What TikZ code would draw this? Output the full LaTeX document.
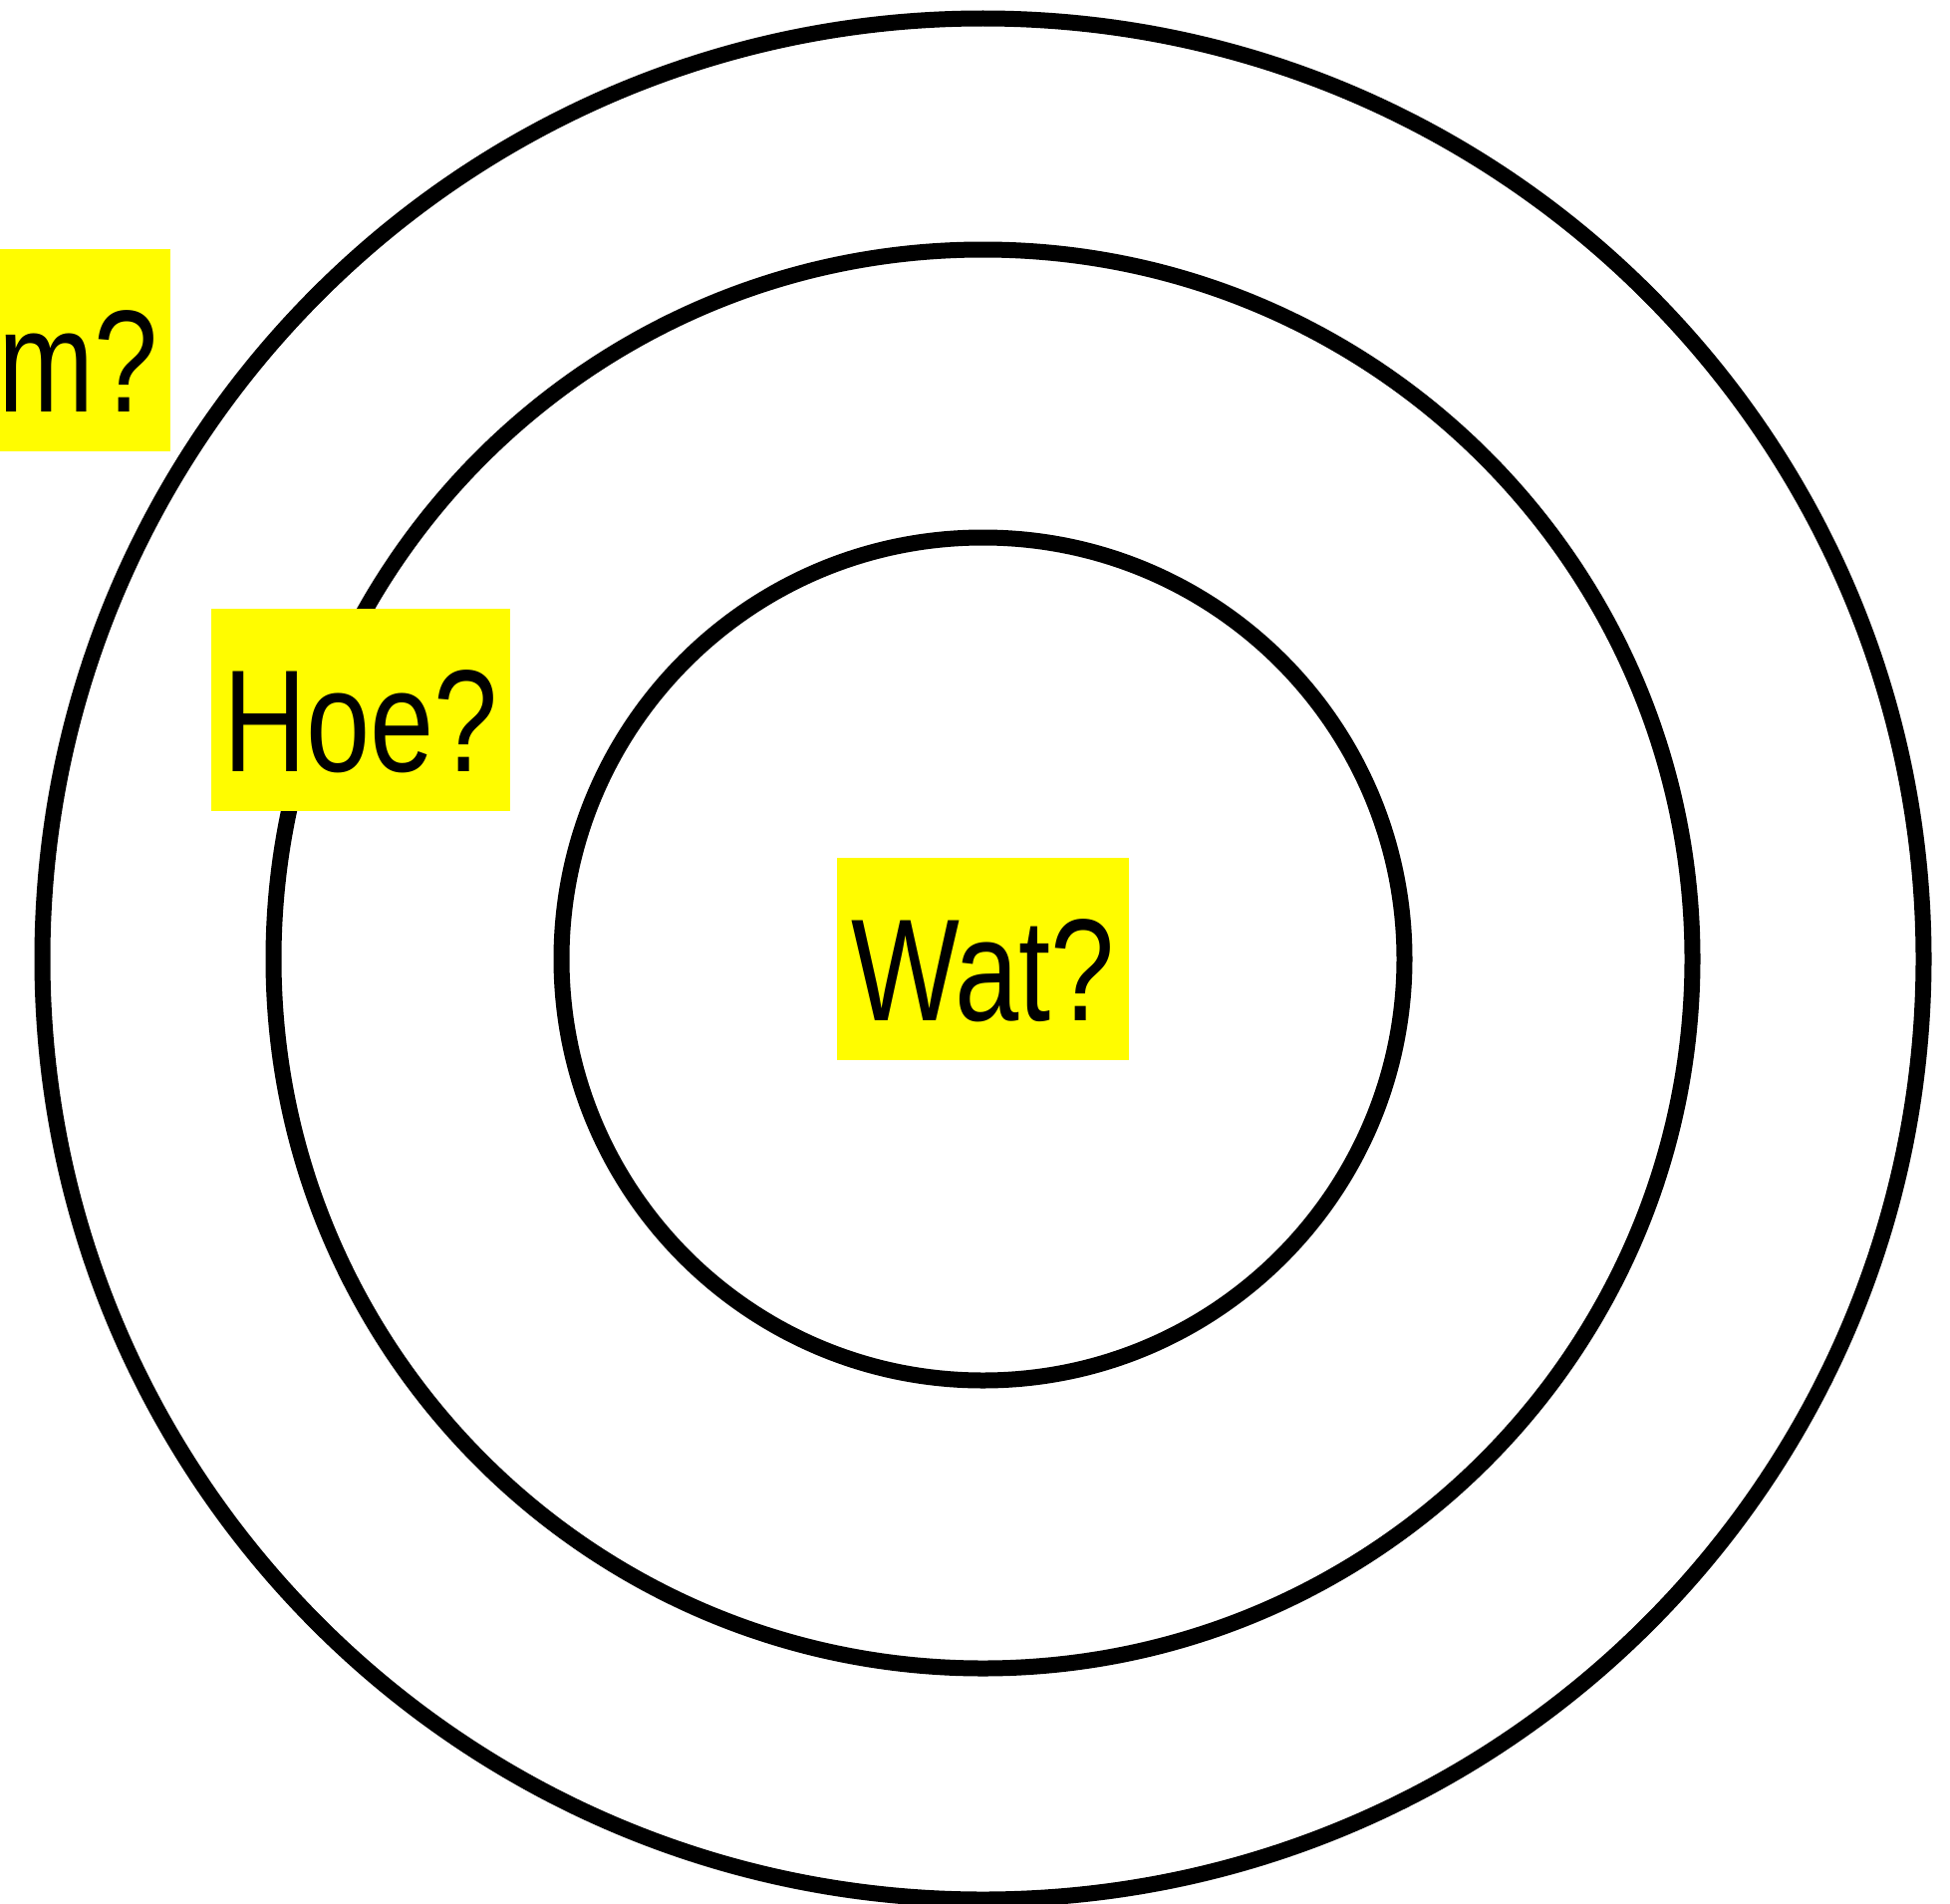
\documentclass[tikz,border=0pt]{standalone}
\usepackage{fontspec}
\setmainfont[FakeStretch=0.79]{Liberation Sans}
\definecolor{labelyellow}{RGB}{255,252,0}
\begin{document}
\begin{tikzpicture}[x=1pt,y=-1pt,
  ring/.style={draw=black,line width=16pt},
  qlabel/.style={fill=labelyellow,inner sep=0pt,text height=163pt,text depth=40pt,
    font=\fontsize{146}{170}\selectfont,anchor=base}]
\useasboundingbox (0,0) rectangle (1957,1911);
\coordinate (c) at (986.5,962.5);
\node[ring,circle,minimum size=1888pt,inner sep=0pt] (outer) at (c) {};
\node[ring,circle,minimum size=1424pt,inner sep=0pt] (middle) at (c) {};
\node[ring,circle,minimum size=846pt,inner sep=0pt] (inner) at (c) {};
\node[qlabel,text width=271pt,align=right,inner xsep=12pt,anchor=base east] (waarom) at (171,413) {m?};
\node[qlabel,minimum width=300pt] (hoe) at (362,774) {Hoe?};
\node[qlabel,minimum width=293pt] (wat) at (986.5,1024) {Wat?};
\end{tikzpicture}
\end{document}
